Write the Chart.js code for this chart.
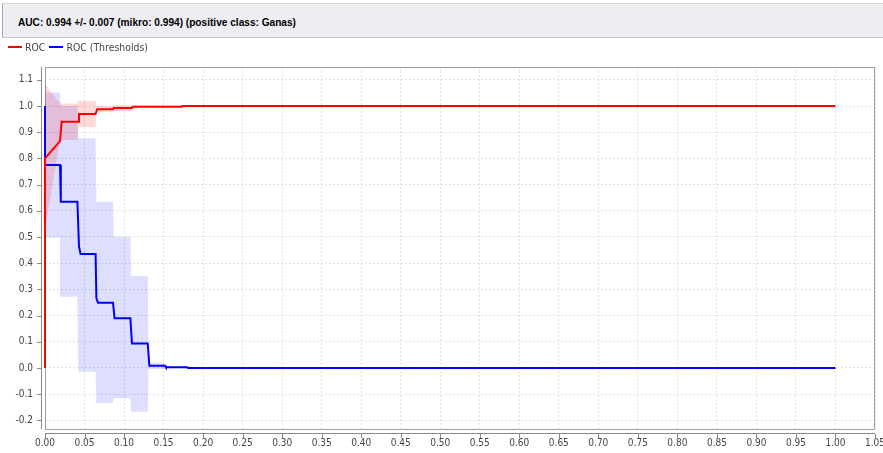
<!DOCTYPE html>
<html>
<head>
<meta charset="utf-8">
<script src="https://cdn.jsdelivr.net/npm/chart.js@4.4.1/dist/chart.umd.min.js"></script>
<style>
  body { margin: 0; background: #fff; }
  #wrap { position: relative; width: 883px; height: 453px; overflow: hidden; }
  #chart { position: absolute; left: 0; top: 0; }
  #title {
    position: absolute; left: 2px; top: 3px; width: 880px; height: 33px;
    background: #eeeef2; border-left: 1px solid #a8a8a8; border-top: 1px solid #d8d8d8;
    border-bottom: 1px solid #c4c4c8;
    color: #000; line-height: 33px; padding-left: 15px; box-sizing: content-box;
  }
  #titleText {
    display: inline-block; transform-origin: 0 50%;
    font: bold 11.5px "Liberation Sans", sans-serif; white-space: nowrap;
  }
  #legend {
    position: absolute; left: 8px; top: 40px; height: 14px;
    font: 10.4px "DejaVu Sans Condensed", sans-serif; color: #444;
    display: flex; align-items: center;
  }
  .sw { display: inline-block; width: 14px; height: 2px; margin-right: 3px; }
  .item { display: flex; align-items: center; margin-right: 4px; }
</style>
</head>
<body>
<div id="wrap">
  <canvas id="chart" width="883" height="453"></canvas>
  <div id="title"><span id="titleText">AUC: 0.994 +/- 0.007 (mikro: 0.994) (positive class: Ganas)</span></div>
  <div id="legend">
    <span class="item"><span class="sw" style="background:#ff0000"></span>ROC</span>
    <span class="item"><span class="sw" style="background:#0000ff"></span>ROC (Thresholds)</span>
  </div>
</div>
<script>
// tick labels
const xTicks = [0, 0.05, 0.1, 0.15, 0.2, 0.25, 0.3, 0.35, 0.4, 0.45, 0.5, 0.55, 0.6, 0.65, 0.7, 0.75, 0.8, 0.85, 0.9, 0.95, 1.0, 1.05];
const yTicks = [-0.2, -0.1, 0, 0.1, 0.2, 0.3, 0.4, 0.5, 0.6, 0.7, 0.8, 0.9, 1.0, 1.1];

// ROC mean curve
const rocX = [0, 0, 0.019, 0.021, 0.042, 0.043, 0.064, 0.066, 0.086, 0.087, 0.11, 0.111, 0.173, 0.174, 1.0];
const rocY = [0, 0.8, 0.866, 0.94, 0.94, 0.97, 0.97, 0.988, 0.988, 0.992, 0.992, 0.997, 0.997, 1.0, 1.0];
// ROC std band
const rocBandX = [0, 0.019, 0.041, 0.042, 0.064, 0.065, 0.086, 0.087, 0.11, 0.111, 0.173, 0.174, 1.0];
const rocUpper = [1.085, 1.01, 1.01, 1.02, 1.02, 1.0, 1.0, 1.003, 1.003, 1.003, 1.003, 1.0, 1.0];
const rocLower = [0.527, 0.87, 0.87, 0.92, 0.92, 0.976, 0.976, 0.981, 0.981, 0.993, 0.993, 1.0, 1.0];

// ROC (Thresholds) mean curve
const thrX = [0, 0, 0.019, 0.02, 0.041, 0.043, 0.045, 0.064, 0.065, 0.067, 0.086, 0.088, 0.108, 0.11, 0.13, 0.132, 0.152, 0.153, 0.18, 0.181, 1.0];
const thrY = [1.0, 0.775, 0.775, 0.635, 0.635, 0.463, 0.435, 0.435, 0.267, 0.249, 0.249, 0.19, 0.19, 0.093, 0.093, 0.008, 0.008, 0.003, 0.003, 0, 0];
// ROC (Thresholds) std band
const thrBandX = [0, 0.019, 0.02, 0.041, 0.042, 0.064, 0.065, 0.086, 0.087, 0.108, 0.109, 0.13, 0.131, 0.152, 0.153, 1.0];
const thrUpper = [1.052, 1.052, 1.0, 1.0, 0.877, 0.877, 0.635, 0.635, 0.501, 0.501, 0.351, 0.351, 0.02, 0.02, 0.005, 0];
const thrLower = [0.497, 0.497, 0.272, 0.272, -0.014, -0.014, -0.134, -0.134, -0.116, -0.116, -0.167, -0.167, -0.004, -0.004, 0, 0];

const pts = (xs, ys) => xs.map((x, i) => ({ x: x, y: ys[i] }));

const tickFont = { family: '"DejaVu Sans Condensed", sans-serif', size: 10 };

// squeeze the title to the narrow width of the original
const tt = document.getElementById('titleText');
tt.style.transform = 'scaleX(' + (278 / tt.getBoundingClientRect().width) + ')';

// plot frame + offset axis lines with tick marks
const framePlugin = {
  id: 'frame',
  beforeDatasetsDraw(chart) {
    const { ctx, chartArea: a } = chart;
    ctx.save();
    ctx.strokeStyle = '#a0a0a0';
    ctx.lineWidth = 1;
    ctx.strokeRect(a.left + 0.5, a.top + 0.5, a.right - a.left - 1, a.bottom - a.top);
    ctx.restore();
  },
  afterDraw(chart) {
    const { ctx, chartArea: a, scales } = chart;
    ctx.save();
    ctx.strokeStyle = '#8a8a8a';
    ctx.lineWidth = 1;
    ctx.beginPath();
    ctx.moveTo(a.left - 3.5, a.top);
    ctx.lineTo(a.left - 3.5, a.bottom);
    ctx.moveTo(a.left, a.bottom + 4.5);
    ctx.lineTo(a.right, a.bottom + 4.5);
    scales.y.ticks.forEach(t => {
      const py = Math.round(scales.y.getPixelForValue(t.value)) + 0.5;
      ctx.moveTo(a.left - 8, py);
      ctx.lineTo(a.left - 4, py);
    });
    scales.x.ticks.forEach(t => {
      const px = Math.round(scales.x.getPixelForValue(t.value)) + 0.5;
      ctx.moveTo(px, a.bottom + 5);
      ctx.lineTo(px, a.bottom + 9);
    });
    ctx.stroke();
    ctx.restore();
  }
};

new Chart(document.getElementById('chart'), {
  type: 'scatter',
  data: {
    datasets: [
      { label: 'ROC', data: pts(rocX, rocY), showLine: true, borderColor: '#ff0000', borderWidth: 2,
        pointRadius: 0, tension: 0, fill: false, order: 0, clip: 3 },
      { label: 'ROC (Thresholds)', data: pts(thrX, thrY), showLine: true, borderColor: '#0000ff', borderWidth: 2,
        pointRadius: 0, tension: 0, fill: false, order: 1, clip: 3 },
      { label: 'rocUpper', data: pts(rocBandX, rocUpper), showLine: true, borderWidth: 0, borderColor: 'rgba(0,0,0,0)',
        pointRadius: 0, tension: 0, fill: '+1', backgroundColor: 'rgba(255,0,0,0.15)', order: 2 },
      { label: 'rocLower', data: pts(rocBandX, rocLower), showLine: true, borderWidth: 0, borderColor: 'rgba(0,0,0,0)',
        pointRadius: 0, tension: 0, fill: false, order: 3 },
      { label: 'thrUpper', data: pts(thrBandX, thrUpper), showLine: true, borderWidth: 0, borderColor: 'rgba(0,0,0,0)',
        pointRadius: 0, tension: 0, fill: '+1', backgroundColor: 'rgba(0,0,255,0.13)', order: 4 },
      { label: 'thrLower', data: pts(thrBandX, thrLower), showLine: true, borderWidth: 0, borderColor: 'rgba(0,0,0,0)',
        pointRadius: 0, tension: 0, fill: false, order: 5 }
    ]
  },
  options: {
    responsive: false,
    animation: false,
    devicePixelRatio: 1,
    layout: { padding: { left: 0, top: 67, right: 8, bottom: 0 } },
    plugins: {
      legend: { display: false },
      tooltip: { enabled: false },
      filler: { propagate: false }
    },
    scales: {
      x: {
        type: 'linear', min: 0, max: 1.05,
        afterBuildTicks: axis => { axis.ticks = xTicks.map(v => ({ value: v })); },
        afterFit: axis => { axis.height = 24; axis.paddingLeft = 0; axis.paddingRight = 0; },
        ticks: { font: tickFont, color: '#444', padding: 8, maxRotation: 0, autoSkip: false,
          callback: v => Number(v).toFixed(2) },
        grid: { color: '#e0e0e0', lineWidth: 1, drawTicks: false },
        border: { display: false, dash: [2, 2] }
      },
      y: {
        type: 'linear', min: -0.233, max: 1.149,
        afterBuildTicks: axis => { axis.ticks = yTicks.map(v => ({ value: v })); },
        afterFit: axis => { axis.width = 45; axis.paddingTop = 0; axis.paddingBottom = 0; },
        ticks: { font: tickFont, color: '#444', padding: 12, autoSkip: false,
          callback: v => Number(v).toFixed(1) },
        grid: { color: '#e0e0e0', lineWidth: 1, drawTicks: false },
        border: { display: false, dash: [2, 2] }
      }
    }
  },
  plugins: [framePlugin]
});
</script>
</body>
</html>
